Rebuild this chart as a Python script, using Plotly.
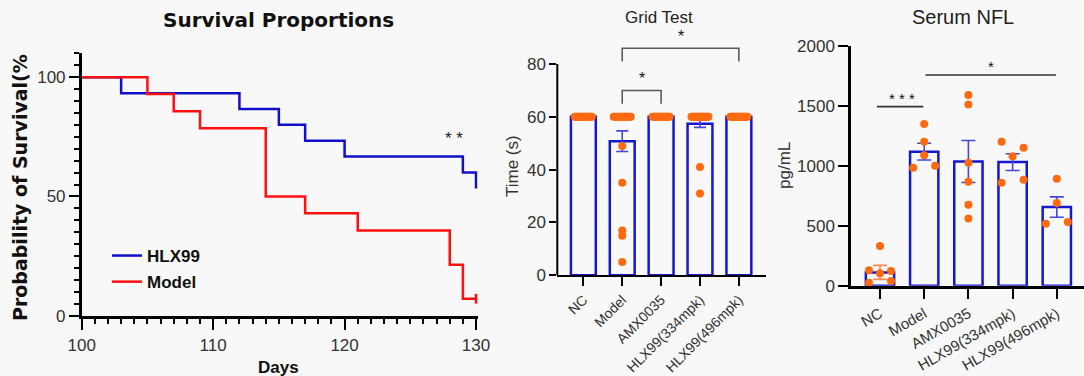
import plotly.graph_objects as go

W, H = 1084, 376

# ---------------- data ----------------
# Survival proportions (Kaplan-Meier steps)
hlx_days = [100, 103, 112, 115, 117, 120, 129, 130]
hlx_surv = [100, 93.3, 86.7, 80.0, 73.3, 66.7, 60.0, 53.3]
model_days = [100, 105, 107, 109, 114, 117, 121, 128, 129, 130]
model_surv = [100, 92.9, 85.7, 78.6, 50.0, 42.9, 35.7, 21.4, 7.1, 7.1]
model_censor_days = [130]
model_censor_surv = [7.1]
surv_sig_text = "* *"
surv_sig_day = 128.3
surv_sig_val = 75.7

categories = ["NC", "Model", "AMX0035", "HLX99(334mpk)", "HLX99(496mpk)"]

# Grid test (s)
grid_means = [60, 50.8, 60, 57.4, 60]
grid_sem = [0, 3.9, 0, 1.4, 0]
grid_nc = [60, 60, 60, 60, 60, 60, 60, 60, 60, 60, 60, 60, 60, 60, 60]
grid_model = [60, 60, 60, 60, 60, 60, 60, 60, 60, 60, 60, 60, 60, 60, 49, 35, 17, 15, 5]
grid_amx = [60, 60, 60, 60, 60, 60, 60, 60, 60, 60, 60, 60, 60, 60, 60]
grid_hlx334 = [60, 60, 60, 60, 60, 60, 60, 60, 60, 60, 60, 60, 60, 60, 60, 41, 31]
grid_hlx496 = [60, 60, 60, 60, 60, 60, 60, 60, 60, 60, 60, 60, 60, 60, 60]
grid_sig_pairs = [(1, 2), (1, 4)]
grid_sig_levels = [70, 86]
grid_sig_labels = ["*", "*"]

# Serum NFL (pg/mL)
nfl_means = [111, 1117, 1035, 1030, 655]
nfl_sem = [58, 70, 175, 70, 85]
nfl_nc = [331, 128, 103, 122, 25, 39]
nfl_model = [1347, 1200, 1087, 983, 1000]
nfl_amx = [1589, 1511, 1025, 867, 675, 561]
nfl_hlx334 = [1200, 1150, 1078, 858, 883]
nfl_hlx496 = [892, 689, 517, 531]
nfl_sig_pairs = [(0, 1), (1, 4)]
nfl_sig_levels = [1492, 1756]
nfl_sig_labels = ["* * *", "*"]

# ---------------- style / geometry ----------------
BG = "#f8f8f8"
BLUE = "#1616cc"
ERR_BLUE = "#4646dc"
ORANGE = "#ff6a10"
ERR_ORANGE = "#ff8a4c"
RED = "#ff1010"
KM_BLUE = "#1010c8"
TXT = "#333333"
ARIAL = "Liberation Sans, Arial, sans-serif"
WIDE_BOLD = "DejaVu Sans, Liberation Sans, sans-serif"

# panel pixel boxes: (left, right, top, bottom)
L_BOX = (81.7, 477.6, 53.3, 315.7)
M_BOX = (557.3, 765.7, 42.9, 275.3)
R_BOX = (851.0, 1084.0, 45.7, 285.7)
L_XR, L_YR = [100, 130.12], [0, 110]
M_XR, M_YR = [-0.67, 4.69], [0, 88]
R_XR, R_YR = [-0.656, 4.615], [0, 2000]


def dom_x(b):
    return [b[0] / W, b[1] / W]


def dom_y(b):
    return [1 - b[3] / H, 1 - b[2] / H]


def swarm(values, px_per_unit, px_per_cat, tie_px, half_px):
    """Beeswarm-like offsets: near-equal values are spread sideways."""
    order = sorted(range(len(values)), key=lambda i: -values[i])
    clusters = []
    for i in order:
        if clusters and (values[clusters[-1][-1]] - values[i]) * px_per_unit < tie_px:
            clusters[-1].append(i)
        else:
            clusters.append([i])
    offs = [0.0] * len(values)
    for c in clusters:
        c = sorted(c)
        k = len(c)
        for j, i in enumerate(c):
            offs[i] = 0.0 if k == 1 else (-half_px + 2 * half_px * j / (k - 1)) / px_per_cat
    return offs


fig = go.Figure()

# ---------------- survival panel ----------------
fig.add_trace(go.Scatter(x=hlx_days, y=hlx_surv, mode="lines", line=dict(color=KM_BLUE, width=2.5, shape="hv"),
                         name="HLX99", legendgroup="a", xaxis="x", yaxis="y"))
fig.add_trace(go.Scatter(x=model_days, y=model_surv, mode="lines", line=dict(color=RED, width=2.5, shape="hv"),
                         name="Model", legendgroup="b", xaxis="x", yaxis="y"))
fig.add_trace(go.Scatter(x=model_censor_days, y=model_censor_surv, mode="markers",
                         marker=dict(symbol="line-ns", size=7, line=dict(color=RED, width=2.5)),
                         showlegend=False, xaxis="x", yaxis="y", cliponaxis=False))


def bar_panel(xa, ya, means, sems, groups, box, xr, yr, tie_px, half_px, cap_w, err_colors):
    fig.add_trace(go.Bar(x=list(range(len(means))), y=means, width=0.64,
                         marker=dict(color="rgba(0,0,0,0)", line=dict(color=BLUE, width=2.5)),
                         showlegend=False, xaxis=xa, yaxis=ya, hoverinfo="skip"))
    for i, (m, s) in enumerate(zip(means, sems)):
        if s <= 0:
            continue
        fig.add_trace(go.Scatter(x=[i], y=[m], mode="markers", marker=dict(size=1, opacity=0),
                                 error_y=dict(type="data", array=[s], color=err_colors[i], thickness=1.6, width=cap_w),
                                 showlegend=False, xaxis=xa, yaxis=ya, hoverinfo="skip"))
    ppu = (box[3] - box[2]) / (yr[1] - yr[0])
    ppc = (box[1] - box[0]) / (xr[1] - xr[0])
    xs, ys = [], []
    for i, vals in enumerate(groups):
        offs = swarm(vals, ppu, ppc, tie_px, half_px)
        xs += [i + o for o in offs]
        ys += list(vals)
    fig.add_trace(go.Scatter(x=xs, y=ys, mode="markers", marker=dict(color=ORANGE, size=8, line=dict(width=0)),
                             showlegend=False, xaxis=xa, yaxis=ya, cliponaxis=False))


bar_panel("x2", "y2", grid_means, grid_sem, [grid_nc, grid_model, grid_amx, grid_hlx334, grid_hlx496],
          M_BOX, M_XR, M_YR, 1.0, 8.5, 6, [ERR_BLUE] * 5)
bar_panel("x3", "y3", nfl_means, nfl_sem, [nfl_nc, nfl_model, nfl_amx, nfl_hlx334, nfl_hlx496],
          R_BOX, R_XR, R_YR, 7.2, 11.0, 7, [ERR_ORANGE, ERR_BLUE, ERR_BLUE, ERR_BLUE, ERR_BLUE])

annotations = []
shapes = []

# grid brackets
for (a, b), lev, lab in zip(grid_sig_pairs, grid_sig_levels, grid_sig_labels):
    fig.add_trace(go.Scatter(x=[a, a, b, b], y=[lev - 5, lev, lev, lev - 5], mode="lines",
                             line=dict(color="#5a5a5a", width=1.6), showlegend=False,
                             xaxis="x2", yaxis="y2", hoverinfo="skip"))
    annotations.append(dict(x=(a + b) / 2, y=lev, xref="x2", yref="y2", text=lab, showarrow=False,
                            yanchor="bottom", yshift=1, font=dict(family=ARIAL, size=16, color="#111")))

# NFL lines
for (a, b), lev, lab in zip(nfl_sig_pairs, nfl_sig_levels, nfl_sig_labels):
    fig.add_trace(go.Scatter(x=[a + 0.03 if a else a - 0.07, b - 0.02], y=[lev, lev], mode="lines",
                             line=dict(color="#333", width=1.6), showlegend=False,
                             xaxis="x3", yaxis="y3", hoverinfo="skip"))
    annotations.append(dict(x=(a + b) / 2, y=lev, xref="x3", yref="y3", text=lab, showarrow=False,
                            yanchor="bottom", yshift=-2, font=dict(family=ARIAL, size=15, color="#111")))

# survival significance
annotations.append(dict(x=surv_sig_day, y=surv_sig_val, xref="x", yref="y", text=surv_sig_text, showarrow=False,
                        yanchor="middle", yshift=-3, font=dict(family=ARIAL, size=17, color="#222")))

# titles
annotations += [
    dict(x=278.5 / W, y=1 - 20 / H, xref="paper", yref="paper", text="Survival Proportions", showarrow=False,
         xanchor="center", yanchor="middle", font=dict(family=WIDE_BOLD, size=20, color="#111", weight="bold")),
    dict(x=20 / W, y=1 - 188 / H, xref="paper", yref="paper", text="Probability of Survival(%", showarrow=False,
         textangle=-90, xanchor="center", yanchor="middle",
         font=dict(family=WIDE_BOLD, size=19, color="#111", weight="bold")),
    dict(x=278 / W, y=1 - 367 / H, xref="paper", yref="paper", text="Days", showarrow=False,
         xanchor="center", yanchor="middle", font=dict(family=ARIAL, size=17, color="#111", weight="bold")),
    dict(x=659 / W, y=1 - 18 / H, xref="paper", yref="paper", text="Grid Test", showarrow=False,
         xanchor="center", yanchor="middle", font=dict(family=ARIAL, size=17, color="#222")),
    dict(x=513 / W, y=1 - 166 / H, xref="paper", yref="paper", text="Time (s)", showarrow=False,
         textangle=-90, xanchor="center", yanchor="middle", font=dict(family=ARIAL, size=17, color=TXT)),
    dict(x=963 / W, y=1 - 17 / H, xref="paper", yref="paper", text="Serum NFL", showarrow=False,
         xanchor="center", yanchor="middle", font=dict(family=ARIAL, size=20, color="#222")),
    dict(x=785 / W, y=1 - 166 / H, xref="paper", yref="paper", text="pg/mL", showarrow=False,
         textangle=-90, xanchor="center", yanchor="middle", font=dict(family=ARIAL, size=17, color=TXT)),
]

# middle y axis line (only up to 80)
shapes.append(dict(type="line", xref="x2 domain", yref="y2", x0=0, x1=0, y0=0, y1=80,
                   line=dict(color="black", width=2)))

tickfont = dict(family=ARIAL, size=17, color=TXT)
common = dict(showgrid=False, zeroline=False, automargin=False, tickcolor="black")

fig.update_layout(
    template="none",
    width=W, height=H, margin=dict(l=0, r=0, t=0, b=0, pad=0), autosize=False,
    paper_bgcolor=BG, plot_bgcolor=BG,
    showlegend=True,
    legend=dict(x=107 / W, y=1 - 238 / H, xanchor="left", yanchor="top", bgcolor="rgba(0,0,0,0)",
                traceorder="grouped", tracegroupgap=1, borderwidth=0,
                font=dict(family=ARIAL, size=17, color="#111", weight="bold")),
    annotations=annotations, shapes=shapes,
    xaxis=dict(domain=dom_x(L_BOX), range=L_XR, anchor="y", **common,
               showline=True, linecolor="black", linewidth=2.5, ticks="outside", ticklen=12, tickwidth=2,
               tick0=100, dtick=10, tickfont=tickfont,
               minor=dict(dtick=1, ticklen=6, tickwidth=2, tickcolor="black", ticks="outside", showgrid=False)),
    yaxis=dict(domain=dom_y(L_BOX), range=L_YR, anchor="x", **common,
               showline=True, linecolor="black", linewidth=2.5, ticks="outside", ticklen=10, tickwidth=2,
               tick0=0, dtick=50, tickfont=tickfont,
               minor=dict(dtick=5, ticklen=5, tickwidth=2, tickcolor="black", ticks="outside", showgrid=False)),
    xaxis2=dict(domain=dom_x(M_BOX), range=M_XR, anchor="y2", **common,
                showline=True, linecolor="black", linewidth=2, ticks="outside", ticklen=9, tickwidth=2,
                tickmode="array", tickvals=list(range(5)), ticktext=categories,
                tickangle=-45, tickfont=dict(family=ARIAL, size=14, color=TXT)),
    yaxis2=dict(domain=dom_y(M_BOX), range=M_YR, anchor="x2", **common,
                showline=False, ticks="outside", ticklen=7, tickwidth=2,
                tickmode="array", tickvals=[0, 20, 40, 60, 80], tickfont=tickfont),
    xaxis3=dict(domain=dom_x(R_BOX), range=R_XR, anchor="y3", **common,
                showline=True, linecolor="black", linewidth=2.5, ticks="outside", ticklen=11, tickwidth=2,
                tickmode="array", tickvals=list(range(5)), ticktext=categories,
                tickangle=-30, tickfont=dict(family=ARIAL, size=15, color=TXT)),
    yaxis3=dict(domain=dom_y(R_BOX), range=R_YR, anchor="x3", **common,
                showline=True, linecolor="black", linewidth=2.5, ticks="outside", ticklen=10, tickwidth=2,
                tickmode="array", tickvals=[0, 500, 1000, 1500, 2000], tickfont=tickfont),
)

fig.write_html("out.html")
